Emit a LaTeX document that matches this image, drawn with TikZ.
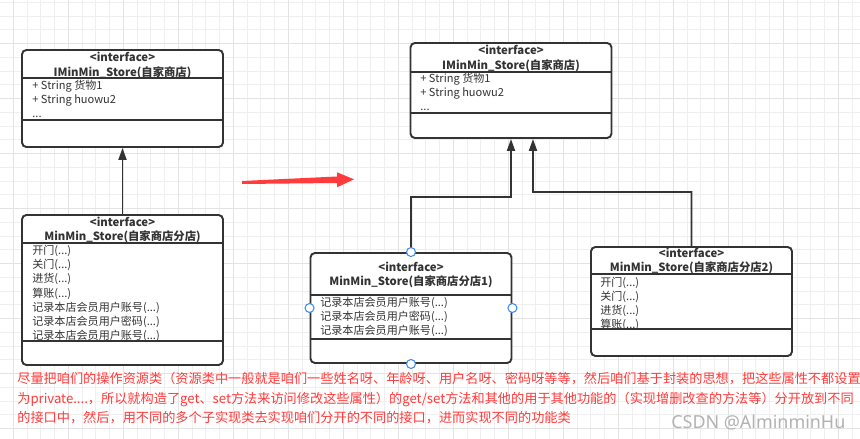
\documentclass[tikz,border=0pt]{standalone}
\usepackage{fontspec}
\setmainfont{Noto Sans CJK SC}
\newfontfamily\wmfont{Noto Sans}
\usepackage{xcolor}
\usepackage{tikz}
\usetikzlibrary{positioning,arrows.meta}
\definecolor{umlgray}{HTML}{333333}
\definecolor{handleblue}{HTML}{3D8BF2}
\definecolor{notered}{HTML}{FF3B3B}
\definecolor{gridminor}{HTML}{EFEFEF}
\definecolor{gridmajor}{HTML}{E3E3E3}

\begin{document}
\begin{tikzpicture}[x=0.02cm, y=-0.02cm,
    umlbox/.style={rectangle, rounded corners=2.5pt, draw=umlgray, line width=1.1pt, fill=white, minimum width=4.02cm, inner sep=0pt},
    header/.style={anchor=base, align=center, inner sep=0pt, text=umlgray, font=\fontsize{6.45pt}{8.5pt}\selectfont\bfseries},
    members/.style={anchor=base west, align=left, inner sep=0pt, text=umlgray, font=\fontsize{6.3pt}{8.1pt}\selectfont},
    sepline/.style={draw=umlgray, line width=1.1pt},
    inherit/.style={-{Triangle[length=0.24cm,width=0.16cm]}, draw=umlgray, line width=1.1pt},
    handle/.style={circle, draw=handleblue, fill=white, line width=0.6pt, minimum size=0.18cm, inner sep=0pt},
    gridline/.style={draw=gridminor, line width=0.5pt},
    gridbold/.style={draw=gridmajor, line width=0.5pt},
    note/.style={anchor=base west, align=left, inner sep=0pt, text=notered, font=\fontsize{7.5pt}{11.06pt}\selectfont},
    watermark/.style={anchor=base west, inner sep=0pt, text=gray!60, font=\wmfont\fontsize{10.2pt}{12pt}\selectfont}
]

% Canvas and grid
\fill[white] (0,0) rectangle (860,439);
\useasboundingbox (0,0) rectangle (860,439);
\foreach \gx in {13.3,27.05,...,860} \draw[gridline] (\gx,0) -- (\gx,439);
\foreach \gy in {2.3,16.05,...,439} \draw[gridline] (0,\gy) -- (860,\gy);
\foreach \gx in {13.3,68.3,...,860} \draw[gridbold] (\gx,0) -- (\gx,439);
\foreach \gy in {43.55,98.55,...,439} \draw[gridbold] (0,\gy) -- (860,\gy);

% Classes, left (before)
\node[umlbox, minimum height=1.94cm] (iface) at (122.5,98.5) {};
\node[umlbox, minimum height=3.0cm] (branch) at (122.5,290) {};
% Classes, right (after)
\node[umlbox, minimum height=1.9cm] (ifaceR) at (511,90.5) {};
\node[umlbox, minimum height=2.2cm] (branch1) at (411,308) {};
\node[umlbox, minimum height=2.18cm] (branch2) at (691.5,301.5) {};

% Compartment lines
\draw[sepline] (iface.west |- 0,78) -- (iface.east |- 0,78);
\draw[sepline] (iface.west |- 0,120) -- (iface.east |- 0,120);
\draw[sepline] (branch.west |- 0,243) -- (branch.east |- 0,243);
\draw[sepline] (branch.west |- 0,341) -- (branch.east |- 0,341);
\draw[sepline] (ifaceR.west |- 0,72) -- (ifaceR.east |- 0,72);
\draw[sepline] (ifaceR.west |- 0,113) -- (ifaceR.east |- 0,113);
\draw[sepline] (branch1.west |- 0,295) -- (branch1.east |- 0,295);
\draw[sepline] (branch1.west |- 0,339) -- (branch1.east |- 0,339);
\draw[sepline] (branch2.west |- 0,274) -- (branch2.east |- 0,274);
\draw[sepline] (branch2.west |- 0,329) -- (branch2.east |- 0,329);

% Names (base = last line)
\node[header] (ifaceName) at (122.5,76.2) {<interface>\\IMinMin\_Store(自家商店)};
\node[header] (branchName) at (122.5,241) {<interface>\\MinMin\_Store(自家商店分店)};
\node[header] (ifaceRName) at (511,69.3) {<interface>\\IMinMin\_Store(自家商店)};
\node[header] (branch1Name) at (411,286) {<interface>\\MinMin\_Store(自家商店分店1)};
\node[header] (branch2Name) at (691.5,272) {<interface>\\MinMin\_Store(自家商店分店2)};

% Members (base = last line)
\node[members] (ifaceAttr) at (32,117.5) {+ String 货物1\\+ String huowu2\\...};
\node[members] (branchOps) at (32,339.8) {开门(...)\\关门(...)\\进货(...)\\算账(...)\\记录本店会员用户账号(...)\\记录本店会员用户密码(...)\\记录本店会员用户账号(...)};
\node[members] (ifaceRAttr) at (420,110.8) {+ String 货物1\\+ String huowu2\\...};
\node[members] (branch1Ops) at (320,334.8) {记录本店会员用户账号(...)\\记录本店会员用户密码(...)\\记录本店会员用户账号(...)};
\node[members] (branch2Ops) at (600,328.7) {开门(...)\\关门(...)\\进货(...)\\算账(...)};

% Inheritance
\coordinate (bendD) at (511,197);
\coordinate (bendE) at (533,192);
\coordinate[xshift=0.44cm] (ifaceRin) at (ifaceR.south);
\draw[inherit] (branch) -- (iface);
\draw[inherit] (branch1.north) |- (bendD) -- (ifaceR.south);
\draw[inherit] (branch2.north) |- (bendE) -- (ifaceRin);

% Selection handles
\node[handle] (hTop) at (branch1.north) {};
\node[handle] (hLeft) at (branch1.west) {};
\node[handle] (hRight) at (branch1.east) {};
\node[handle] (hBottom) at (branch1.south) {};

% Red arrow
\coordinate (arrTail) at (242,182.5);
\coordinate (arrTip) at (354,179.3);
\fill[notered] (arrTail) ++(0,-1.5) -- (337,176.5) -- (337,172.3) -- (arrTip) -- (337,187.3) -- (337,183) -- (242,184) -- cycle;

% Note (base = last line)
\node[note] (remark) at (17,422.5) {尽量把咱们的操作资源类（资源类中一般就是咱们一些姓名呀、年龄呀、用户名呀、密码呀等等，然后咱们基于封装的思想，把这些属性不都设置\\为private....，所以就构造了get、set方法来访问修改这些属性）的get/set方法和其他的用于其他功能的（实现增删改查的方法等）分开放到不同\\的接口中，然后，用不同的多个子实现类去实现咱们分开的不同的接口，进而实现不同的功能类};
\node[watermark] (csdn) at (671,428) {CSDN @AlminminHu};

\end{tikzpicture}
\end{document}
